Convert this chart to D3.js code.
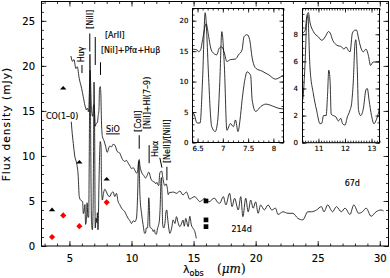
<!DOCTYPE html>
<html>
<head>
<meta charset="utf-8">
<script src="https://cdn.jsdelivr.net/npm/d3@7"></script>
<style>
  body { margin: 0; background: #fff; }
  text { font-family: "DejaVu Sans", sans-serif; fill: #000; stroke: #000; stroke-width: 0.15; }
</style>
</head>
<body>
<script>
// Spectra, [wavelength (micron), flux density (mJy)]
var spec67 = [
  [5.12,21.1],[5.25,20.5],[5.36,20.7],[5.52,19.7],[5.63,19.9],[5.79,18.6],[5.98,17.5],[6.11,16.6],[6.25,15.6],[6.38,15.1],
  [6.42,15.3],[6.49,15.2],[6.52,14.9],[6.56,15.2],[6.60,16.9],[6.67,19.5],[6.72,17.4],[6.76,15.5],[6.81,14.7],[6.88,14.4],
  [6.93,15.5],[6.98,15.7],[7.03,14.7],[7.08,13.3],[7.15,13.6],[7.25,13.7],[7.31,14.4],[7.38,15.2],[7.42,17.4],[7.48,17.7],
  [7.53,16.9],[7.58,13.9],[7.65,12.2],[7.78,11.7],[7.91,11.1],[8.04,10.4],[8.11,10.6],[8.17,10.9],[8.26,11.1],[8.39,11.0],
  [8.52,11.3],[8.66,11.2],[8.85,10.5],[9.06,10.3],[9.18,9.9],[9.28,9.6],[9.46,9.4],[9.60,9.5],[9.73,9.2],[9.87,8.9],
  [10.0,8.6],[10.14,8.7],[10.27,8.4],[10.40,8.1],[10.50,8.3],[10.56,9.3],[10.62,9.6],[10.68,8.9],[10.81,8.2],[11.0,7.8],
  [11.13,7.55],[11.25,7.8],[11.38,8.2],[11.44,8.1],[11.54,7.55],[11.69,7.2],[11.88,7.06],[11.96,6.9],[12.04,7.06],[12.13,6.8],
  [12.19,6.7],[12.28,8.1],[12.38,8.3],[12.44,8.3],[12.50,7.8],[12.59,7.06],[12.69,6.7],[12.79,6.9],[12.88,6.45],[12.96,5.7],
  [13.06,5.95],[13.21,5.95],[13.35,6.0],[13.62,5.85],[13.9,6.1],[14.15,5.67],[14.42,6.0],[14.69,5.2],[14.82,5.3],[15.1,5.48],
  [15.3,5.2],[15.5,4.93],[15.7,5.1],[15.9,5.3],[16.1,5.0],[16.3,4.93],[16.5,5.2],[16.7,5.3],[16.9,4.9],[17.1,4.74],
  [17.4,5.48],[17.6,4.56],[17.9,5.85],[18.1,4.37],[18.3,5.3],[18.6,4.0],[18.8,5.48],[18.97,3.26],[19.2,5.3],[19.4,3.8],
  [19.6,5.1],[19.8,4.2],[20.0,4.9],[20.2,3.63],[20.4,4.56],[20.7,4.0],[21.0,4.56],[21.3,4.0],[21.6,4.2],[21.8,3.5],
  [22.2,3.8],[22.6,3.63],[23.0,3.63],[23.4,3.07],[23.8,2.9],[24.2,3.8],[24.5,3.8],[24.9,4.0],[25.3,4.37],[25.5,3.8],
  [25.8,4.56],[26.2,3.8],[26.5,4.37],[26.9,3.8],[27.2,4.2],[27.6,3.5],[27.9,4.56],[28.3,3.63],[28.6,3.8],[28.9,4.2],
  [29.3,3.3],[29.7,3.8],[30.1,4.0],[30.3,3.9]
];

var spec214 = [
  [5.15,13.8],[5.20,12.9],[5.31,11.4],[5.44,9.9],[5.58,9.2],[5.71,7.7],[5.79,5.5],[5.90,5.1],[6.06,4.93],[6.12,3.6],
  [6.17,3.8],[6.25,4.6],[6.30,2.4],[6.38,3.1],[6.42,4.8],[6.49,3.2],[6.55,3.2],[6.60,10.5],[6.65,21.3],[6.72,10.5],
  [6.75,5.3],[6.78,2.6],[6.85,1.8],[6.90,3.7],[6.94,10.0],[6.98,18.2],[7.03,12.6],[7.08,2.0],[7.15,3.1],[7.21,2.6],
  [7.25,3.7],[7.30,1.8],[7.34,3.7],[7.38,6.9],[7.44,10.5],[7.48,11.6],[7.55,11.0],[7.58,7.0],[7.65,5.1],[7.75,5.9],
  [7.85,6.3],[7.98,6.0],[8.11,5.6],[8.26,5.5],[8.39,5.9],[8.52,6.0],[8.65,5.5],[8.79,5.85],[8.92,4.93],[9.05,4.6],
  [9.20,4.2],[9.33,4.0],[9.46,3.8],[9.60,3.4],[9.73,3.07],[9.87,2.8],[10.0,2.5],[10.14,2.8],[10.27,2.7],[10.40,3.1],
  [10.50,6.0],[10.56,9.0],[10.60,9.4],[10.68,5.6],[10.81,3.6],[10.93,2.4],[11.06,1.4],[11.13,1.45],[11.19,2.0],[11.29,2.0],
  [11.34,3.4],[11.39,5.35],[11.44,4.5],[11.48,2.1],[11.56,2.0],[11.66,1.9],[11.75,1.6],[11.84,1.8],[11.91,1.4],[12.0,1.3],
  [12.09,1.9],[12.19,2.4],[12.25,2.9],[12.31,4.4],[12.38,7.4],[12.41,7.6],[12.46,5.6],[12.51,2.4],[12.59,2.0],[12.69,2.5],
  [12.79,3.9],[12.84,4.0],[12.91,3.1],[13.0,2.0],[13.09,1.4],[13.16,1.6],[13.25,2.1],[13.35,2.9],[13.5,2.5],[13.62,3.26],
  [13.75,2.6],[13.89,2.15],[14.0,2.4],[14.15,2.89],[14.25,2.2],[14.37,3.07],[14.56,2.15],[14.7,3.3],[14.82,2.33],[14.96,1.96],
  [15.1,1.6],[15.22,0.85]
];

// IRAC photometry
var iracWave = [3.6, 4.5, 5.8, 8.0];
var irac67 = [4.0, 17.5, 9.3, 7.4];
var irac214 = [1.0, 3.4, 2.2, 4.85];

// 16 micron peak-up photometry
var puWave67 = [16.0];
var pu67 = [5.0];
var puWave214 = [16.0, 16.0];
var pu214 = [2.9, 2.15];

// tick labels
var xTicks = [5, 10, 15, 20, 25, 30];
var yTicks = [0, 5, 10, 15, 20, 25];
var in1XTicks = [6.5, 7, 7.5, 8];
var in1YTicks = [0, 5, 10, 15, 20];
var in2XTicks = [11, 12, 13];
var in2YTicks = [0, 2, 4, 6, 8];

// line identifications: marker at wave from lo to hi, text anchored at (tw, tf)
var lineIds = [
  { name: "Huγ",           wave: 6.01,  lo: 19.2, hi: 20.1, tw: 6.21,  tf: 20.4, rot: true },
  { name: "[NiII]",        wave: 6.64,  lo: 21.6, hi: 23.6, tw: 6.89,  tf: 24.1, rot: true },
  { name: "[ArII]",        wave: 7.08,  lo: 20.1, hi: 23.2, tw: 7.86,  tf: 23.1, rot: false },
  { name: "[NiI]+Pfα+Huβ", wave: 7.50,  lo: 19.0, hi: 20.4, tw: 7.54,  tf: 21.4, rot: false },
  { name: "[CoII]",        wave: 10.62, lo: 10.8, hi: 12.3, tw: 10.8,  tf: 12.66, rot: true },
  { name: "[NiI]+HI(7–9)", wave: 11.42, lo: 9.2,  hi: 11.2, tw: 11.52, tf: 12.99, rot: true },
  { name: "Huα",           wave: 12.28, lo: 9.8,  hi: 9.8,  tw: 12.12, tf: 9.88, rot: true, w2: 12.45, f2: 8.7 },
  { name: "[NeII]/[NiII]", wave: 12.85, lo: 7.3,  hi: 8.8,  tw: 13.13, tf: 9.21, rot: true }
];

var W = 390, H = 278;
var svg = d3.select("body").append("svg")
  .attr("width", W).attr("height", H);

// main scales
var x = d3.scaleLinear().domain([2.75, 30.7]).range([41.5, 388.5]);
var y = d3.scaleLinear().domain([0, 27.15]).range([246, 1.5]);

// draws ticks on all four sides of a frame, labels on bottom and left
function frame(g, sx, sy, c) {
  var x0 = sx.range()[0], x1 = sx.range()[1];
  var y0 = sy.range()[0], y1 = sy.range()[1];
  var fmt = function(d){ return String(d); };
  var axes = [
    g.append("g").attr("transform", "translate(0," + y0 + ")")
      .call(d3.axisBottom(sx).tickValues(c.xMin).tickSize(-c.small).tickFormat("")),
    g.append("g").attr("transform", "translate(0," + y0 + ")")
      .call(d3.axisBottom(sx).tickValues(c.xMaj).tickSize(-c.big).tickPadding(c.xPad).tickFormat(fmt)),
    g.append("g").attr("transform", "translate(0," + y1 + ")")
      .call(d3.axisTop(sx).tickValues(c.xMin).tickSize(-c.small).tickFormat("")),
    g.append("g").attr("transform", "translate(0," + y1 + ")")
      .call(d3.axisTop(sx).tickValues(c.xMaj).tickSize(-c.big).tickFormat("")),
    g.append("g").attr("transform", "translate(" + x0 + ",0)")
      .call(d3.axisLeft(sy).tickValues(c.yMin).tickSize(-c.small).tickFormat("")),
    g.append("g").attr("transform", "translate(" + x0 + ",0)")
      .call(d3.axisLeft(sy).tickValues(c.yMaj).tickSize(-c.big).tickPadding(c.yPad).tickFormat(fmt)),
    g.append("g").attr("transform", "translate(" + x1 + ",0)")
      .call(d3.axisRight(sy).tickValues(c.yMin).tickSize(-c.small).tickFormat("")),
    g.append("g").attr("transform", "translate(" + x1 + ",0)")
      .call(d3.axisRight(sy).tickValues(c.yMaj).tickSize(-c.big).tickFormat(""))
  ];
  axes.forEach(function(a){
    a.select(".domain").remove();
    a.attr("font-size", c.fs).attr("font-family", null);
    a.selectAll("line").attr("stroke", "#000").attr("stroke-width", 0.8);
  });
  g.append("rect")
    .attr("x", x0).attr("y", y1)
    .attr("width", x1 - x0).attr("height", y0 - y1)
    .attr("fill", "none").attr("stroke", "#000").attr("stroke-width", 1);
}

function drawSpectra(g, sx, sy, id) {
  g.append("clipPath").attr("id", id)
    .append("rect")
    .attr("x", sx.range()[0]).attr("y", sy.range()[1])
    .attr("width", sx.range()[1] - sx.range()[0])
    .attr("height", sy.range()[0] - sy.range()[1]);
  var line = d3.line()
    .curve(d3.curveMonotoneX)
    .x(function(d){ return sx(d[0]); })
    .y(function(d){ return sy(d[1]); });
  [spec67, spec214].forEach(function(s){
    g.append("path")
      .datum(s)
      .attr("clip-path", "url(#" + id + ")")
      .attr("d", line)
      .attr("fill", "none")
      .attr("stroke", "#111")
      .attr("stroke-width", 0.85);
  });
}

// ---- main panel ----
var main = svg.append("g");
drawSpectra(main, x, y, "clipMain");

frame(main, x, y, {
  xMaj: xTicks, xMin: d3.range(3, 31, 1),
  yMaj: yTicks, yMin: d3.range(0, 28, 1),
  big: 5, small: 2.5, fs: 10, xPad: 8.5, yPad: 6.5
});

// photometry markers
var tri = d3.symbol().type(d3.symbolTriangle).size(20);
main.selectAll(".tri")
  .data(iracWave)
  .enter()
  .append("path")
  .attr("class", "tri")
  .attr("d", tri)
  .attr("transform", function(d, i){
    return "translate(" + x(d) + "," + y(irac67[i]) + ") scale(0.95,0.6)";
  })
  .attr("fill", "#000");

var dia = d3.symbol().type(d3.symbolSquare).size(19);
main.selectAll(".dia")
  .data(iracWave)
  .enter()
  .append("path")
  .attr("class", "dia")
  .attr("d", dia)
  .attr("transform", function(d, i){
    return "translate(" + x(d) + "," + y(irac214[i]) + ") rotate(45)";
  })
  .attr("fill", "#ff0000");

var sq = d3.symbol().type(d3.symbolSquare).size(22);
main.selectAll(".sq67")
  .data(puWave67)
  .enter()
  .append("path")
  .attr("d", sq)
  .attr("transform", function(d, i){ return "translate(" + x(d) + "," + y(pu67[i]) + ")"; })
  .attr("fill", "#000");
main.selectAll(".sq214")
  .data(puWave214)
  .enter()
  .append("path")
  .attr("d", sq)
  .attr("transform", function(d, i){ return "translate(" + x(d) + "," + y(pu214[i]) + ")"; })
  .attr("fill", "#000");

// line identifications
lineIds.forEach(function(l){
  var x2 = l.w2 !== undefined ? x(l.w2) : x(l.wave);
  var y2 = l.f2 !== undefined ? y(l.f2) : y(l.lo);
  main.append("line")
    .attr("x1", x(l.wave)).attr("y1", y(l.hi))
    .attr("x2", x2).attr("y2", y2)
    .attr("stroke", "#000").attr("stroke-width", 1);
  var t = main.append("text")
    .attr("font-size", 8)
    .text(l.name);
  if (l.rot) {
    t.attr("transform", "translate(" + x(l.tw) + "," + y(l.tf) + ") rotate(-90)");
  } else {
    t.attr("x", x(l.tw)).attr("y", y(l.tf));
  }
});

// SiO band
main.append("line")
  .attr("x1", x(7.95)).attr("x2", x(9.05))
  .attr("y1", y(12.45)).attr("y2", y(12.45))
  .attr("stroke", "#000").attr("stroke-width", 1);
main.append("text")
  .attr("x", x(8.5)).attr("y", y(12.71))
  .attr("text-anchor", "middle")
  .attr("font-size", 8)
  .text("SiO");

main.append("text")
  .attr("x", x(3.11)).attr("y", y(14.1))
  .attr("font-size", 8)
  .text("CO(1–0)");

// epoch labels
main.append("text")
  .attr("x", x(27.17)).attr("y", y(6.66))
  .attr("font-size", 8)
  .text("67d");
main.append("text")
  .attr("x", x(18.05)).attr("y", y(1.59))
  .attr("font-size", 8)
  .text("214d");

// axis titles
svg.append("text")
  .attr("transform", "translate(10,124) rotate(-90)")
  .attr("text-anchor", "middle")
  .attr("font-size", 10.5)
  .attr("letter-spacing", 1.1)
  .text("Flux density (mJy)");

var xt = svg.append("text")
  .attr("x", 183).attr("y", 273)
  .attr("font-size", 11);
xt.append("tspan").text("λ");
xt.append("tspan").attr("font-size", 8).attr("dy", 3).text("obs");
xt.append("tspan").attr("x", 217).attr("dy", -3)
  .style("font-family", "'DejaVu Serif', serif").attr("font-size", 12).text("(");
xt.append("tspan").style("font-family", "'DejaVu Serif', serif")
  .attr("font-size", 12).attr("font-style", "italic").text("μm");
xt.append("tspan").style("font-family", "'DejaVu Serif', serif")
  .attr("font-size", 12).text(")");

// ---- inset 1: 6.4-8.2 micron ----
var x1 = d3.scaleLinear().domain([6.4, 8.2]).range([192.5, 283.5]);
var y1 = d3.scaleLinear().domain([0, 22]).range([142.5, 8.5]);
var in1 = svg.append("g");
in1.append("rect")
  .attr("x", 192.5).attr("y", 8.5).attr("width", 91).attr("height", 134)
  .attr("fill", "#fff");
drawSpectra(in1, x1, y1, "clipIn1");
frame(in1, x1, y1, {
  xMaj: in1XTicks, xMin: d3.range(6.4, 8.21, 0.1),
  yMaj: in1YTicks, yMin: d3.range(0, 23, 1),
  big: 4, small: 2, fs: 7, xPad: 3.5, yPad: 4
});

// ---- inset 2: 10.4-13.3 micron ----
var x2 = d3.scaleLinear().domain([10.4, 13.3]).range([302.5, 379.5]);
var y2 = d3.scaleLinear().domain([0, 9.9]).range([142.7, 8.5]);
var in2 = svg.append("g");
in2.append("rect")
  .attr("x", 302.5).attr("y", 8.5).attr("width", 77).attr("height", 134.2)
  .attr("fill", "#fff");
drawSpectra(in2, x2, y2, "clipIn2");
frame(in2, x2, y2, {
  xMaj: in2XTicks, xMin: d3.range(10.4, 13.31, 0.1),
  yMaj: in2YTicks, yMin: d3.range(0, 10, 0.5),
  big: 4, small: 2, fs: 7, xPad: 3.5, yPad: 4.5
});
</script>
</body>
</html>
